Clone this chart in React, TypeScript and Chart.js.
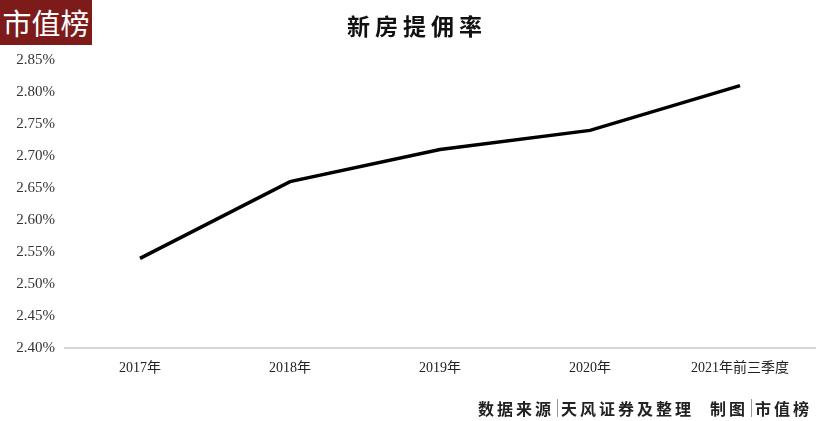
import React, { useEffect, useRef } from "react";
import { Chart, registerables } from "chart.js";

Chart.register(...registerables);

const categories = ["2017年", "2018年", "2019年", "2020年", "2021年前三季度"];
const commissionRate = [2.54, 2.66, 2.71, 2.74, 2.81];
const yMin = 2.4;
const yMax = 2.85;
const yStep = 0.05;
const titleText = "新房提佣率";
const logoText = "市值榜";

export default function App() {
  const ref = useRef<HTMLCanvasElement | null>(null);

  useEffect(() => {
    document.body.style.margin = "0";
    const ctx = ref.current!;
    const chart = new Chart(ctx, {
      type: "line",
      data: {
        labels: categories,
        datasets: [
          {
            data: commissionRate,
            borderColor: "#000000",
            borderWidth: 3.5,
            pointRadius: 0,
            tension: 0,
            fill: false,
          },
        ],
      },
      options: {
        animation: false,
        responsive: false,
        maintainAspectRatio: false,
        layout: { padding: { left: 0, right: 2, top: 60, bottom: 0 } },
        plugins: {
          legend: { display: false },
          tooltip: { enabled: false },
          title: { display: false },
        },
        scales: {
          x: {
            offset: true,
            grid: { display: false, drawTicks: false },
            border: { display: true, color: "#d6d6d6", width: 2 },
            ticks: {
              padding: 12,
              color: "#222",
              font: { family: "'Liberation Serif', 'Noto Sans CJK SC', serif", size: 14 },
              maxRotation: 0,
              autoSkip: false,
            },
            afterFit: (s: any) => {
              s.height = 73;
            },
          },
          y: {
            min: yMin,
            max: yMax,
            grid: { display: false, drawTicks: false },
            border: { display: false },
            ticks: {
              stepSize: yStep,
              padding: 10,
              color: "#333",
              font: { family: "'Liberation Serif', serif", size: 15 },
              callback: (v: any) => Number(v).toFixed(2) + "%",
            },
            afterFit: (s: any) => {
              s.width = 65;
            },
          },
        },
      },
    });
    return () => chart.destroy();
  }, []);

  return (
    <div style={{ position: "relative", width: 817, height: 421, background: "#fff", overflow: "hidden" }}>
      <canvas ref={ref} width={817} height={421} style={{ position: "absolute", left: 0, top: 0 }} />
      <div
        style={{
          position: "absolute",
          left: 0,
          top: 0,
          width: 92,
          height: 45,
          background: "#7d1b1b",
          color: "#fff",
          fontFamily: "'Noto Sans CJK SC', sans-serif",
          fontSize: 29,
          lineHeight: "45px",
          textAlign: "center",
          fontWeight: 400,
        }}
      >
        {logoText}
      </div>
      <div
        style={{
          position: "absolute",
          left: 0,
          width: 834,
          top: 9,
          textAlign: "center",
          fontFamily: "'Noto Sans CJK SC', sans-serif",
          fontSize: 23,
          fontWeight: 700,
          letterSpacing: 5,
          color: "#111",
          lineHeight: "32px",
        }}
      >
        {titleText}
      </div>
      <div
        style={{
          position: "absolute",
          right: 5,
          top: 397,
          fontFamily: "'Noto Sans CJK SC', sans-serif",
          fontSize: 16,
          fontWeight: 600,
          letterSpacing: 3,
          color: "#222",
          lineHeight: "22px",
          display: "flex",
          alignItems: "center",
          whiteSpace: "nowrap",
        }}
      >
        <span>数据来源</span>
        <span style={{ display: "inline-block", width: 1, height: 18, background: "#999", margin: "0 3px" }} />
        <span>天风证券及整理</span>
        <span style={{ display: "inline-block", width: 16 }} />
        <span>制图</span>
        <span style={{ display: "inline-block", width: 1, height: 18, background: "#999", margin: "0 3px" }} />
        <span>市值榜</span>
      </div>
    </div>
  );
}
